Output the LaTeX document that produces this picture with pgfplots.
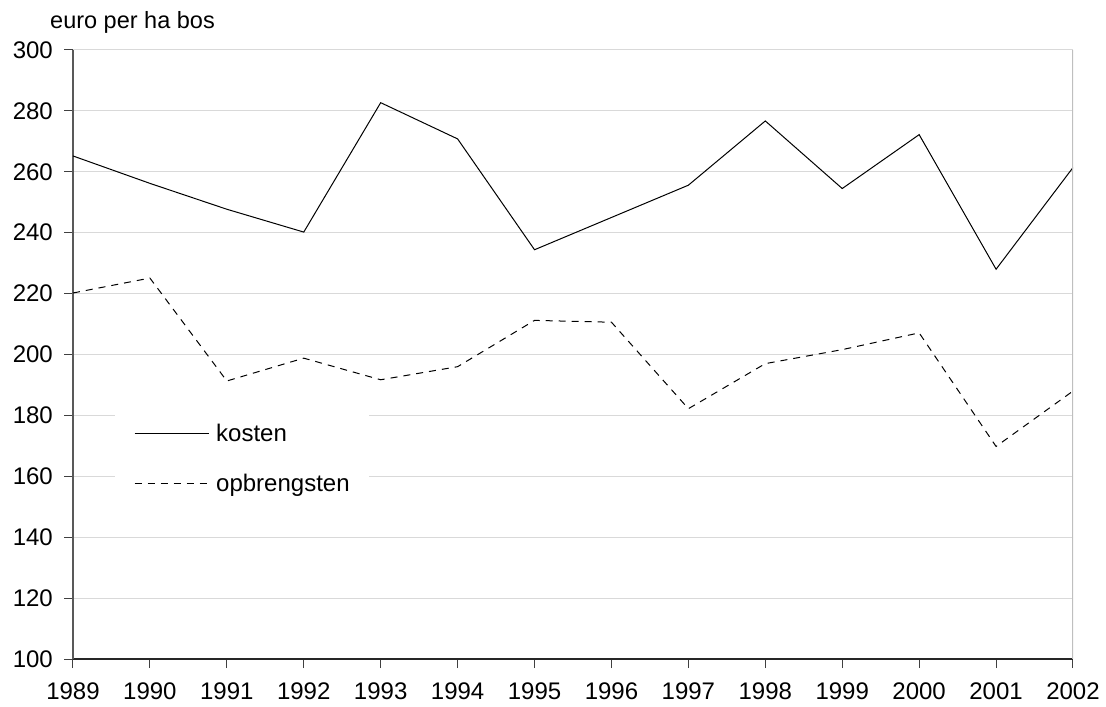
\documentclass[border=0pt]{standalone}
\usepackage{pgfplots}
\pgfplotsset{compat=1.18}
\usepackage{fontspec}
\setmainfont{Liberation Sans}
\begin{document}
\fontsize{24bp}{28bp}\selectfont
\begin{tikzpicture}
\begin{axis}[
  at={(0,0)}, anchor=south west,
  scale only axis, width=1000bp, height=609bp,
  xmin=1989, xmax=2002, ymin=100, ymax=300,
  axis x line*=bottom, axis y line*=left,
  x axis line style={black!85, line width=1.2bp, -},
  y axis line style={black!65, line width=1.4bp, -},
  xtick={1989,1990,...,2002}, ytick={100,120,...,300},
  tick align=outside, major tick length=9bp,
  tick style={black!75, line width=1bp},
  ymajorgrids, grid style={black!15, line width=1bp},
  /pgf/number format/assume math mode=true,
  tick label style={font=\fontsize{24bp}{28bp}\selectfont},
  x tick label style={/pgf/number format/1000 sep={}, yshift=-7bp},
  y tick label style={xshift=-3bp},
  legend style={at={(rel axis cs:0.042,0.251)}, anchor=south west, draw=none, fill=white,
    inner xsep=19bp, inner ysep=14bp, row sep=33bp, column sep=7bp,
    nodes={text height=17bp, text depth=0bp, inner sep=0pt},
    font=\fontsize{24bp}{28bp}\selectfont},
  legend cell align=left,
  legend image code/.code={\draw[#1] (0bp,0bp) -- (74bp,0bp);},
]
\addplot[black, line width=1bp] coordinates {
(1989,265.2) (1990,256.2) (1991,247.7) (1992,240.2) (1993,282.7) (1994,270.8) (1995,234.4)
(1996,245.0) (1997,255.6) (1998,276.7) (1999,254.5) (2000,272.2) (2001,228.0) (2002,261.4)};
\addlegendentry{kosten}
\addplot[black, line width=1bp, dash pattern=on 7bp off 6bp] coordinates {
(1989,220.2) (1990,225.1) (1991,191.3) (1992,198.8) (1993,191.7) (1994,196.0) (1995,211.2)
(1996,210.6) (1997,182.2) (1998,197.0) (1999,201.6) (2000,207.1) (2001,169.8) (2002,188.0)};
\addlegendentry{opbrengsten}
\draw[black!25, line width=1.5bp] (rel axis cs:1,0) -- (rel axis cs:1,1);
\end{axis}
\node[anchor=base west, font=\fontsize{23.5bp}{27bp}\selectfont] at (-31bp,630bp) {euro per ha bos};
\pgfresetboundingbox
\path (-73bp,-48bp) rectangle (1033bp,659bp);
\end{tikzpicture}
\end{document}
